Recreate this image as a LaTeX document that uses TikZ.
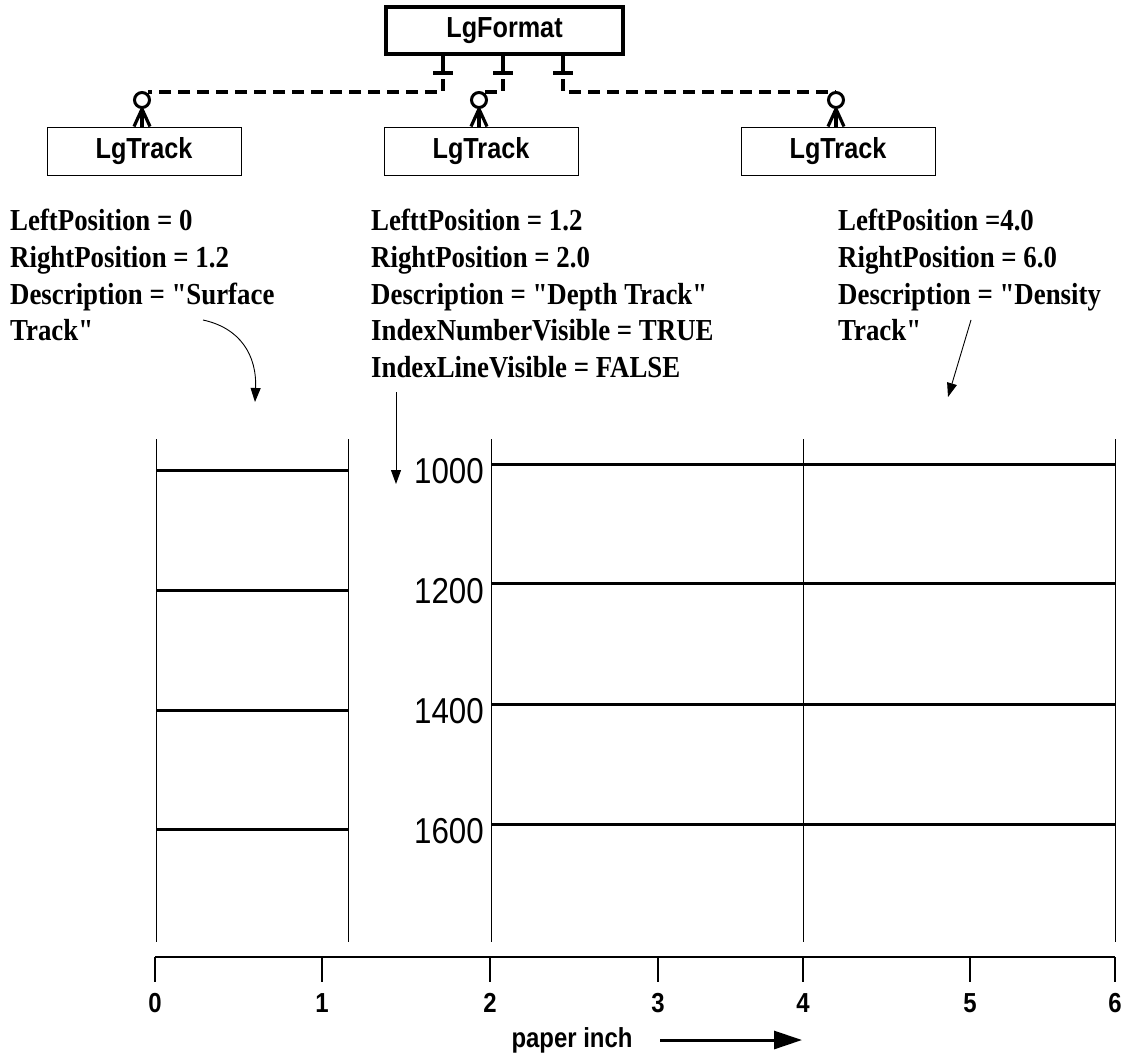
\documentclass[tikz,border=0pt]{standalone}
\usepackage{fontspec}
\usetikzlibrary{arrows.meta}
\newfontfamily\labelsans[FakeStretch=0.87]{Liberation Sans}
\newfontfamily\notefont[FakeStretch=0.88]{Liberation Serif}

\begin{document}
\begin{tikzpicture}[x=1pt,y=-1pt,
  heavy/.style={line width=3.2pt},
  hair/.style={line width=0.9pt},
  linkdash/.style={line width=3.2pt, dash pattern=on 12pt off 7pt},
  formatbox/.style={draw, line width=3.2pt, minimum width=237pt, minimum height=47pt,
    inner sep=0pt, font=\labelsans\bfseries\fontsize{29}{34}\selectfont},
  trackbox/.style={draw, line width=1pt, minimum width=194pt, minimum height=48pt,
    inner sep=0pt, font=\labelsans\bfseries\fontsize{29}{34}\selectfont},
  endring/.style={circle, draw, line width=3pt, minimum size=15pt, inner sep=0pt},
  note/.style={anchor=north west, align=left, inner sep=0pt,
    font=\notefont\bfseries\fontsize{30.5}{36.7}\selectfont},
  depthlbl/.style={anchor=east, inner sep=0pt, font=\labelsans\fontsize{36}{40}\selectfont},
  ticklbl/.style={inner sep=0pt, font=\labelsans\bfseries\fontsize{27.5}{32}\selectfont},
  thinarrow/.style={hair, -{Triangle[length=14pt,width=10pt]}},
]
\useasboundingbox (0,0) rectangle (1134,1057);

% ---- class boxes ----
\node[formatbox] (fmt) at (504.5,30.5) {LgFormat};
\node[trackbox] (t1) at (144,151) {LgTrack};
\node[trackbox] (t2) at (481,151) {LgTrack};
\node[trackbox] (t3) at (838,151) {LgTrack};

% ---- aggregation stems under LgFormat ----
\foreach \sx/\nm in {443/a,503/b,563/c}{
  \coordinate (stem\nm) at (\sx,54);
  \coordinate (bar\nm) at (\sx,73);
  \coordinate (joint\nm) at (\sx,92);
  \draw[heavy] (stem\nm) -- (\sx,71);
  \draw[heavy] ([xshift=-10pt]bar\nm) -- ([xshift=10pt]bar\nm);
}

% ---- ring ends with crow feet on each LgTrack ----
\node[endring] (r1) at (142,100) {};
\node[endring] (r2) at (479,100) {};
\node[endring] (r3) at (836,100) {};
\foreach \r/\t in {r1/t1,r2/t2,r3/t3}{
  \draw[heavy] (\r.south) -- (\r.south |- \t.north);
  \draw[heavy] (\r.south) -- ([xshift=-8pt]\r.south |- \t.north);
  \draw[heavy] (\r.south) -- ([xshift=8pt]\r.south |- \t.north);
}

% ---- dashed links ----
\draw[linkdash] (443,79) -- (jointa) -- (r1.north east |- jointa);
\draw[linkdash] (503,79) -- (jointb) -- (r2.north east |- jointb);
\draw[linkdash] (563,79) -- (jointc) -- (r3.north |- jointc);

% ---- property notes ----
\node[note] (n1) at (10,209) {LeftPosition = 0\\RightPosition = 1.2\\Description = "Surface\\Track"};
\node[note] (n2) at (371,209) {LefttPosition = 1.2\\RightPosition = 2.0\\Description = "Depth Track"\\IndexNumberVisible = TRUE\\IndexLineVisible = FALSE};
\node[note] (n3) at (838,209) {LeftPosition =4.0\\RightPosition = 6.0\\Description = "Density\\Track"};

% ---- pointer arrows ----
\coordinate (p1s) at (203,320);
\coordinate (p1e) at (255,402);
\draw[thinarrow] (p1s) .. controls (240,328) and (257,355) .. (p1e);
\coordinate (p2s) at (396,392);
\coordinate (p2e) at (396,484);
\draw[thinarrow] (p2s) -- (p2e);
\coordinate (p3s) at (971,320);
\coordinate (p3e) at (948,397);
\draw[thinarrow] (p3s) -- (p3e);

% ---- track borders ----
\foreach \tx/\nm in {156/v0,348/v1,491/v2,803/v4,1115/v6}{
  \coordinate (\nm top) at (\tx,439);
  \coordinate (\nm bot) at (\tx,942);
  \draw[hair] (\nm top) -- (\nm bot);
}

% ---- index lines ----
\foreach \ly in {470,590,710,829}{
  \draw[line width=3pt] (v0top |- 0,\ly) -- (v1top |- 0,\ly);
}
\foreach \ly in {464,583,704,824}{
  \draw[line width=3pt] (v2top |- 0,\ly) -- (v6top |- 0,\ly);
}

% ---- depth numbers ----
\node[depthlbl] (d1000) at (484,471) {1000};
\node[depthlbl] (d1200) at (484,591) {1200};
\node[depthlbl] (d1400) at (484,711) {1400};
\node[depthlbl] (d1600) at (484,831) {1600};

% ---- paper-inch axis ----
\coordinate (ax0) at (155,957);
\coordinate (ax6) at (1115,957);
\draw[line width=2.2pt] (ax0) -- (ax6);
\foreach \tx/\lb in {155/0,322/1,490/2,658/3,803/4,970/5,1115/6}{
  \draw[line width=1.1pt] (\tx,957) -- (\tx,982);
  \node[ticklbl] (lbl\lb) at (\tx,1003) {\lb};
}
\node[ticklbl] (unit) at (572,1040) {paper inch};
\coordinate (unitend) at (802,1040);
\draw[line width=3pt, -{Triangle[length=28pt,width=18pt]}] (660,1040) -- (unitend);
\end{tikzpicture}
\end{document}
